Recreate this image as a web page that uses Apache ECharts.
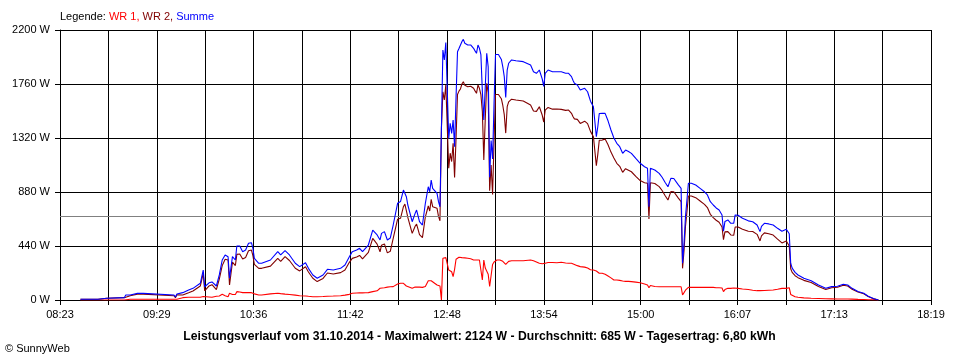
<!DOCTYPE html>
<html><head><meta charset="utf-8">
<script src="https://cdn.jsdelivr.net/npm/echarts@6/dist/echarts.min.js"></script>
<style>html,body{margin:0;padding:0;background:#fff}#c{width:960px;height:360px}</style>
</head><body><div id="c"></div>
<script>
const tickLabels = ['08:23','09:29','10:36','11:42','12:48','13:54','15:00','16:07','17:13','18:19'];
const yTickValues = [0, 440, 880, 1320, 1760, 2200];
const durchschnitt = 685;

const times = ['08:37','08:41','08:49','08:50','08:55','08:56','09:07','09:08','09:11','09:16','09:20','09:21','09:41','09:42','09:43','09:47','09:51','09:54','09:59','10:01','10:02','10:05','10:07','10:10','10:12','10:14','10:16','10:18','10:19','10:21','10:23','10:24','10:26','10:28','10:30','10:32','10:34','10:35','10:36','10:39','10:41','10:47','10:52','10:54','10:57','11:00','11:04','11:07','11:11','11:13','11:16','11:19','11:23','11:26','11:30','11:35','11:38','11:41','11:43','11:46','11:48','11:50','11:52','11:54','11:55','11:57','12:00','12:02','12:03','12:05','12:07','12:09','12:11','12:14','12:16','12:18','12:19','12:20','12:21','12:24','12:26','12:27','12:29','12:31','12:33','12:35','12:36','12:37','12:38','12:41','12:42','12:43','12:44','12:45','12:46','12:47','12:48','12:49','12:50','12:51','12:52','12:53','12:54','12:55','12:56','12:57','12:58','12:59','13:00','13:01','13:02','13:03','13:04','13:05','13:06','13:07','13:08','13:09','13:10','13:11','13:12','13:13','13:14','13:15','13:16','13:17','13:18','13:19','13:20','13:21','13:22','13:23','13:24','13:25','13:26','13:27','13:28','13:29','13:30','13:32','13:35','13:40','13:45','13:47','13:49','13:51','13:52','13:53','13:54','13:55','13:57','14:00','14:03','14:06','14:09','14:11','14:13','14:14','14:15','14:17','14:19','14:20','14:22','14:24','14:26','14:28','14:30','14:31','14:32','14:34','14:36','14:38','14:40','14:42','14:44','14:46','14:48','14:50','14:52','14:54','14:57','15:00','15:03','15:05','15:06','15:07','15:10','15:13','15:15','15:17','15:19','15:21','15:23','15:26','15:28','15:29','15:30','15:31','15:32','15:33','15:35','15:38','15:41','15:44','15:46','15:48','15:50','15:52','15:54','15:56','15:57','15:58','16:00','16:02','16:04','16:05','16:07','16:10','16:14','16:17','16:20','16:21','16:22','16:23','16:25','16:28','16:31','16:34','16:37','16:40','16:42','16:43','16:44','16:46','16:48','16:52','16:57','17:02','17:07','17:11','17:15','17:19','17:22','17:25','17:29','17:33','17:36','17:40','17:43'];

const summe = [6,6,6,14,14,19,19,41,41,54,54,41,41,24,49,60,81,95,136,244,108,140,147,114,204,326,367,353,177,353,326,440,440,394,407,462,467,421,340,299,299,326,394,367,402,367,299,272,304,258,204,177,204,250,244,258,285,353,394,407,421,394,421,448,448,570,530,489,543,557,489,505,611,788,802,896,902,842,774,638,706,733,638,611,788,923,882,978,910,869,801,760,1400,2037,1956,2097,2105,1317,1440,1358,1467,1249,1650,2023,2050,2064,2105,2124,2092,2078,2078,2085,2078,2064,2051,2030,2010,2078,2051,2000,1700,1467,1738,2010,1900,1000,1300,1150,1600,2000,2010,2000,1990,1960,1900,1820,1650,1874,1929,1956,1950,1942,1915,1860,1847,1874,1860,1800,1740,1847,1874,1860,1860,1860,1847,1847,1820,1790,1766,1752,1711,1697,1725,1697,1620,1575,1330,1412,1520,1521,1521,1460,1385,1320,1277,1249,1195,1222,1210,1195,1154,1114,1086,1073,760,1073,1059,1032,1000,960,923,991,990,940,910,299,462,679,815,951,951,937,910,882,856,801,774,750,733,693,560,640,652,625,625,693,690,666,645,638,611,600,557,600,625,620,611,584,560,576,540,300,260,225,204,177,157,122,95,109,112,128,122,95,70,55,30,10,0];

const wr1 = [0,0,0,0,0,0,0,6,6,6,6,6,6,6,6,19,22,22,22,28,33,25,22,30,33,46,35,27,55,45,45,68,65,60,60,60,60,60,50,41,41,50,55,52,48,45,40,35,33,30,27,27,28,30,32,35,40,46,55,57,58,58,59,60,62,68,75,96,96,100,105,108,109,130,136,136,120,114,100,95,105,114,105,103,110,157,157,157,150,122,120,114,0,340,326,345,345,244,244,230,190,250,332,348,348,345,345,345,343,340,340,340,336,330,326,326,326,326,326,326,163,326,260,244,210,110,200,290,310,326,326,326,326,320,315,310,290,299,315,320,320,320,326,320,310,299,299,295,290,300,305,305,304,307,302,299,299,295,290,280,272,272,268,260,246,244,236,225,218,218,210,195,180,163,163,160,155,152,152,150,146,141,130,122,100,118,110,108,108,108,108,108,108,108,108,41,60,80,95,103,103,103,103,103,103,103,103,100,100,98,68,85,95,95,98,98,95,90,85,80,76,76,76,77,78,80,82,88,95,95,100,45,35,27,22,17,14,12,10,9,8,8,8,7,5,4,2,1,0];

const wr2 = [6,6,6,14,14,19,19,35,35,48,48,35,35,18,43,41,59,73,114,216,75,115,125,84,171,280,332,326,122,308,281,372,375,334,347,402,407,361,290,258,258,276,339,315,354,322,259,237,271,228,177,150,176,220,212,223,245,307,339,350,363,336,362,388,386,502,455,393,447,457,384,397,502,658,666,760,782,728,674,543,601,619,533,508,678,766,725,821,760,747,681,646,1400,1697,1630,1752,1760,1073,1196,1128,1277,999,1318,1675,1702,1719,1760,1779,1749,1738,1738,1745,1742,1734,1725,1704,1684,1752,1725,1674,1537,1141,1478,1766,1690,890,1100,860,1290,1674,1684,1674,1664,1640,1585,1510,1360,1575,1614,1636,1630,1622,1589,1540,1537,1575,1561,1505,1450,1547,1569,1555,1556,1553,1545,1548,1521,1495,1476,1472,1439,1425,1457,1437,1374,1331,1094,1187,1302,1303,1311,1265,1205,1157,1114,1089,1040,1070,1058,1045,1008,973,956,951,660,955,949,924,892,852,815,883,882,832,802,258,402,599,720,848,848,834,807,779,753,698,671,650,633,595,492,555,557,530,527,595,595,576,560,558,535,524,481,523,547,540,529,496,465,481,440,255,225,198,182,160,143,110,85,100,104,120,114,88,65,51,28,9,0];

const T0 = 8 * 60 + 23, T1 = 18 * 60 + 19, STEPS = 18;
function toUnit(s) {
  const p = s.split(':');
  const m = (+p[0]) * 60 + (+p[1]);
  return (m - T0) / ((T1 - T0) / STEPS);
}
function pairs(vals) { return times.map((t, i) => [toUnit(t), vals[i]]); }

const FF = '"Liberation Sans", Arial, sans-serif';
const chart = echarts.init(document.getElementById('c'), null, {renderer: 'canvas'});
chart.setOption({
  animation: false,
  backgroundColor: '#ffffff',
  grid: {left: 60, right: 29, top: 30, bottom: 60, containLabel: false},
  xAxis: {
    type: 'value', min: 0, max: STEPS, interval: 1,
    axisLine: {show: true, lineStyle: {color: '#000', width: 1}},
    axisTick: {show: true, length: 5, lineStyle: {color: '#000'}},
    splitLine: {show: true, lineStyle: {color: '#000', width: 1}},
    axisLabel: {
      show: true, margin: 9, color: '#000', fontSize: 11, fontFamily: FF,
      showMinLabel: true, showMaxLabel: true,
      formatter: v => (Math.round(v) % 2 === 0 ? tickLabels[Math.round(v) / 2] : '')
    }
  },
  yAxis: {
    type: 'value', min: yTickValues[0], max: yTickValues[yTickValues.length - 1], interval: yTickValues[1],
    axisLine: {show: true, lineStyle: {color: '#000', width: 1}},
    axisTick: {show: true, length: 5, lineStyle: {color: '#000'}},
    splitLine: {show: true, lineStyle: {color: '#000', width: 1}},
    axisLabel: {margin: 10, color: '#000', fontSize: 11, fontFamily: FF, formatter: v => v + ' W'}
  },
  series: [
    {name: 'WR 1', type: 'line', data: pairs(wr1), symbol: 'none', showSymbol: false,
     lineStyle: {color: '#ff0000', width: 1.1}, itemStyle: {color: '#ff0000'}, z: 3,
     markLine: {silent: true, symbol: 'none', label: {show: false},
       lineStyle: {color: '#808080', width: 1, type: 'solid'}, data: [{yAxis: durchschnitt}]}},
    {name: 'WR 2', type: 'line', data: pairs(wr2), symbol: 'none', showSymbol: false,
     lineStyle: {color: '#800000', width: 1.1}, itemStyle: {color: '#800000'}, z: 4},
    {name: 'Summe', type: 'line', data: pairs(summe), symbol: 'none', showSymbol: false,
     lineStyle: {color: '#0000ff', width: 1.1}, itemStyle: {color: '#0000ff'}, z: 5}
  ],
  graphic: [
    {type: 'text', left: 60, top: 11, style: {
      text: '{k|Legende: }{a|WR 1,}{b| WR 2,}{c| Summe}',
      font: '11px ' + FF,
      rich: {
        k: {fill: '#000', fontSize: 11, fontFamily: FF},
        a: {fill: '#ff0000', fontSize: 11, fontFamily: FF},
        b: {fill: '#800000', fontSize: 11, fontFamily: FF},
        c: {fill: '#0000ff', fontSize: 11, fontFamily: FF}
      }
    }},
    {type: 'text', x: 479.5, y: 337, style: {
      text: 'Leistungsverlauf vom 31.10.2014 - Maximalwert: 2124 W - Durchschnitt: 685 W - Tagesertrag: 6,80 kWh',
      fill: '#000', font: 'bold 12.2px ' + FF, textAlign: 'center', textVerticalAlign: 'middle'
    }},
    {type: 'text', x: 5, y: 349, style: {
      text: '\u00a9 SunnyWeb', fill: '#000', font: '11px ' + FF, textAlign: 'left', textVerticalAlign: 'middle'
    }}
  ]
});
</script>
</body></html>
